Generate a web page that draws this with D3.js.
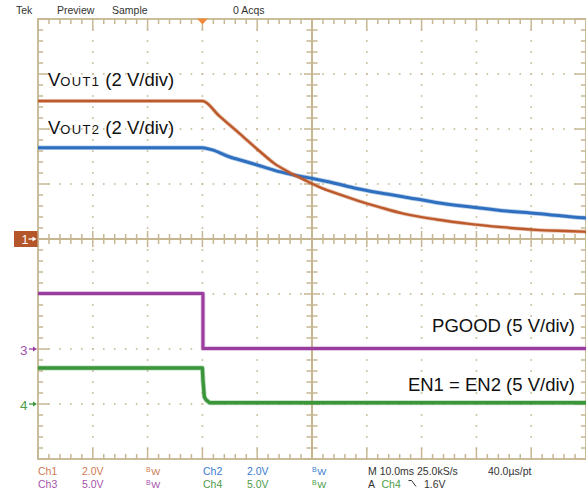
<!DOCTYPE html>
<html><head><meta charset="utf-8">
<script src="https://cdn.jsdelivr.net/npm/d3@7"></script>
<style>
body{margin:0;background:#fff}
svg{display:block}
text{font-family:"Liberation Sans",Arial,sans-serif}
</style>
</head><body>
<svg id="c" width="586" height="500"></svg>
<script>
// ---- data (time in ms, voltage in V) ----
const timeDomain = [-30, 70];          // 10 ms/div, 10 divisions
const divDomain = [-4, 4];             // 8 vertical divisions
const ch1Time = [-30, 0, 3.1, 6.75, 10.4, 13.1, 15.9, 18.6, 21.35, 25.0, 28.6, 32.3, 36.5, 42.7, 48.7, 54.7, 60.9, 69.3, 70];
const ch1Volt = [5.02, 5.02, 4.47, 3.84, 3.20, 2.75, 2.42, 2.15, 1.89, 1.62, 1.38, 1.16, 0.93, 0.71, 0.55, 0.43, 0.33, 0.27, 0.26];
const ch2Time = [-30, 0, 1.8, 4.9, 8.0, 11.0, 14.0, 17.1, 20.1, 23.2, 26.2, 29.3, 32.3, 36.6, 42.6, 48.7, 54.8, 60.9, 69.4, 70];
const ch2Volt = [3.32, 3.32, 3.24, 2.99, 2.81, 2.63, 2.45, 2.31, 2.20, 2.07, 1.93, 1.79, 1.68, 1.54, 1.33, 1.17, 1.03, 0.93, 0.77, 0.76];
const ch3Time = [-30, 0.1, 0.1, 70];
const ch3Volt = [5.05, 5.05, 0.05, 0.05];
const ch4Time = [-30, 0, 0.1, 0.35, 0.7, 1.3, 70];
const ch4Volt = [3.27, 3.27, 2.2, 0.64, 0.36, 0.12, 0.12];
const channelNames = ["Ch1", "Ch2", "Ch3", "Ch4"];
const channelScale = ["2.0V", "2.0V", "5.0V", "5.0V"];
const voltsPerDiv = [2, 2, 5, 5];
const offsetDiv = [0, 0, -2, -3];
const traceColors = ["#bc5a2c", "#2e6fc0", "#9b3c9f", "#3b963b"];
const textColors = ["#cf7b55", "#3a7ccf", "#a553ab", "#4c9c4c"];
const headerLabels = ["Tek", "Preview", "Sample", "0 Acqs"];
const timebaseText = "M 10.0ms 25.0kS/s";
const sampleText = "40.0\u00b5s/pt";
const triggerLevel = "1.6V";

// ---- scales ----
const svg = d3.select("#c");
const x = d3.scaleLinear().domain(timeDomain).range([38, 586]);
const yDiv = d3.scaleLinear().domain(divDomain).range([459, 19]);
const yCh = (c, v) => yDiv(v / voltsPerDiv[c] + offsetDiv[c]);
const grat = "#c6b792";

// ---- graticule ----
const g = svg.append("g");
const majorT = d3.range(timeDomain[0], timeDomain[1] + 0.01, 10);
const minorT = d3.range(timeDomain[0], timeDomain[1] + 0.01, 2);
const majorD = d3.range(divDomain[0], divDomain[1] + 0.01, 1);
const minorD = d3.range(divDomain[0], divDomain[1] + 0.01, 0.2);
const isMajT = t => Math.abs(t / 10 - Math.round(t / 10)) < 1e-6;
const isMajD = d => Math.abs(d - Math.round(d)) < 1e-6;

// dots along inner major lines
majorT.slice(1, -1).forEach(t => {
  if (t === 20) return;
  minorD.forEach(d => g.append("rect").attr("x", x(t) - 0.8).attr("y", yDiv(d) - 0.8).attr("width", 1.6).attr("height", 1.6).attr("fill", grat));
});
majorD.slice(1, -1).forEach(d => {
  if (d === 0) return;
  minorT.forEach(t => g.append("rect").attr("x", x(t) - 0.8).attr("y", yDiv(d) - 0.8).attr("width", 1.6).attr("height", 1.6).attr("fill", grat));
});
// border
const L = x(timeDomain[0]), R = x(timeDomain[1]), T = yDiv(divDomain[1]), B = yDiv(divDomain[0]);
g.append("rect").attr("x", L).attr("y", T).attr("width", R - L).attr("height", B - T).attr("fill", "none").attr("stroke", grat).attr("stroke-width", 1.8);
minorT.forEach(t => {
  const len = isMajT(t) ? 11 : 5;
  g.append("line").attr("x1", x(t)).attr("x2", x(t)).attr("y1", T).attr("y2", T + len).attr("stroke", grat).attr("stroke-width", 1.5);
  g.append("line").attr("x1", x(t)).attr("x2", x(t)).attr("y1", B).attr("y2", B - len).attr("stroke", grat).attr("stroke-width", 1.5);
});
minorD.forEach(d => {
  const len = isMajD(d) ? 11 : 5;
  g.append("line").attr("x1", L).attr("x2", L + len).attr("y1", yDiv(d)).attr("y2", yDiv(d)).attr("stroke", grat).attr("stroke-width", 1.5);
  g.append("line").attr("x1", R).attr("x2", R - len).attr("y1", yDiv(d)).attr("y2", yDiv(d)).attr("stroke", grat).attr("stroke-width", 1.5);
});
// center cross
const cx = x(20), cy = yDiv(0);
g.append("line").attr("x1", L).attr("x2", R).attr("y1", cy).attr("y2", cy).attr("stroke", grat).attr("stroke-width", 2);
g.append("line").attr("x1", cx).attr("x2", cx).attr("y1", T).attr("y2", B).attr("stroke", grat).attr("stroke-width", 2);
minorT.forEach(t => {
  const h = isMajT(t) ? 8 : 5;
  g.append("line").attr("x1", x(t)).attr("x2", x(t)).attr("y1", cy - h).attr("y2", cy + h).attr("stroke", grat).attr("stroke-width", 1.5);
});
minorD.forEach(d => {
  const h = isMajD(d) ? 8 : 5.5;
  g.append("line").attr("x1", cx - h).attr("x2", cx + h).attr("y1", yDiv(d)).attr("y2", yDiv(d)).attr("stroke", grat).attr("stroke-width", 1.5);
});

// trigger position marker
svg.append("path").attr("d", `M${x(0) - 5.5},${T - 0.5}L${x(0) + 5.5},${T - 0.5}L${x(0)},${T + 5.5}Z`).attr("fill", "#f08a3c");

// ---- traces ----
const series = [
  [ch1Time, ch1Volt], [ch2Time, ch2Volt], [ch3Time, ch3Volt], [ch4Time, ch4Volt]
];
const widths = [2.4, 3, 3, 3.4];
const drawOrder = [2, 3, 1, 0];
drawOrder.forEach(c => {
  const [ts, vs] = series[c];
  const pts = ts.map((t, i) => ({t, v: vs[i]}));
  const line = d3.line().x(d => x(d.t)).y(d => yCh(c, d.v)).curve(c < 2 ? d3.curveMonotoneX : d3.curveLinear);
  svg.append("path").datum(pts).attr("d", line).attr("fill", "none").attr("stroke", traceColors[c]).attr("stroke-opacity", 0.35).attr("stroke-width", widths[c] + 1.6).attr("stroke-linejoin", "round");
  svg.append("path").datum(pts).attr("d", line).attr("fill", "none").attr("stroke", traceColors[c]).attr("stroke-width", widths[c]).attr("stroke-linejoin", "round");
});

// ---- channel ground markers ----
const m1y = yCh(0, 0);
svg.append("rect").attr("x", 14).attr("y", m1y - 8).attr("width", 23.5).attr("height", 16).attr("fill", "#b5552a");
svg.append("text").attr("x", 21.5).attr("y", m1y + 4.5).attr("fill", "#fff").attr("font-size", 12.5).text("1");
function arrow(x0, y0, col) {
  svg.append("line").attr("x1", x0).attr("x2", x0 + 6).attr("y1", y0).attr("y2", y0).attr("stroke", col).attr("stroke-width", 1.3);
  svg.append("path").attr("d", `M${x0 + 4},${y0 - 2.5}L${x0 + 8},${y0}L${x0 + 4},${y0 + 2.5}Z`).attr("fill", col);
}
arrow(28.5, m1y, "#fff");
[[2, "3"], [3, "4"]].forEach(([c, lab]) => {
  const yy = yCh(c, 0);
  svg.append("text").attr("x", 20).attr("y", yy + 5.5).attr("fill", textColors[c]).attr("font-size", 13.5).text(lab);
  arrow(29, yy, traceColors[c]);
});

// ---- header ----
const hx = [16, 57, 112, 233];
headerLabels.forEach((s, i) => svg.append("text").attr("x", hx[i]).attr("y", 13.5).attr("font-size", 10.5).attr("fill", "#333").text(s));

// ---- bottom readout ----
function bw(xp, yp, col) {
  const t = svg.append("text").attr("x", xp).attr("y", yp).attr("fill", col);
  t.append("tspan").attr("font-size", 7).attr("dy", -2.5).text("B");
  t.append("tspan").attr("font-size", 9.5).attr("dy", 3).attr("dx", 0.5).text("W");
}
const rowY = [474.5, 487.5];
const colX = [[38, 82, 146], [203, 247, 312], [38, 82, 146], [203, 247, 312]];
channelNames.forEach((n, c) => {
  const yy = rowY[c < 2 ? 0 : 1];
  svg.append("text").attr("x", colX[c][0]).attr("y", yy).attr("font-size", 10.5).attr("fill", textColors[c]).text(n);
  svg.append("text").attr("x", colX[c][1]).attr("y", yy).attr("font-size", 10.5).attr("fill", textColors[c]).text(channelScale[c]);
  bw(colX[c][2], yy, textColors[c]);
});
svg.append("text").attr("x", 368).attr("y", rowY[0]).attr("font-size", 10.5).attr("fill", "#333").text(timebaseText);
svg.append("text").attr("x", 488).attr("y", rowY[0]).attr("font-size", 10.5).attr("fill", "#333").text(sampleText);
svg.append("text").attr("x", 368).attr("y", rowY[1]).attr("font-size", 10.5).attr("fill", "#333").text("A");
svg.append("text").attr("x", 381.5).attr("y", rowY[1]).attr("font-size", 10.5).attr("fill", textColors[3]).text("Ch4");
svg.append("path").attr("d", `M408.5,480.5L411.5,480.5L416,486.5`).attr("fill", "none").attr("stroke", "#333").attr("stroke-width", 1);
svg.append("text").attr("x", 424).attr("y", rowY[1]).attr("font-size", 10.5).attr("fill", "#333").text(triggerLevel);

// ---- annotations ----
function vout(yp, sub) {
  const t = svg.append("text").attr("x", 48).attr("y", yp).attr("font-size", 18.5).attr("fill", "#111");
  t.append("tspan").text("V");
  t.append("tspan").attr("font-size", 13).attr("letter-spacing", 1.3).text("OUT" + sub);
  t.append("tspan").text(" (2 V/div)");
}
vout(86, "1");
vout(134, "2");
svg.append("text").attr("x", 575).attr("y", 331.5).attr("text-anchor", "end").attr("font-size", 18.5).attr("fill", "#111").text("PGOOD (5 V/div)");
svg.append("text").attr("x", 575).attr("y", 391).attr("text-anchor", "end").attr("font-size", 18.5).attr("fill", "#111").text("EN1 = EN2 (5 V/div)");
</script>
</body></html>
